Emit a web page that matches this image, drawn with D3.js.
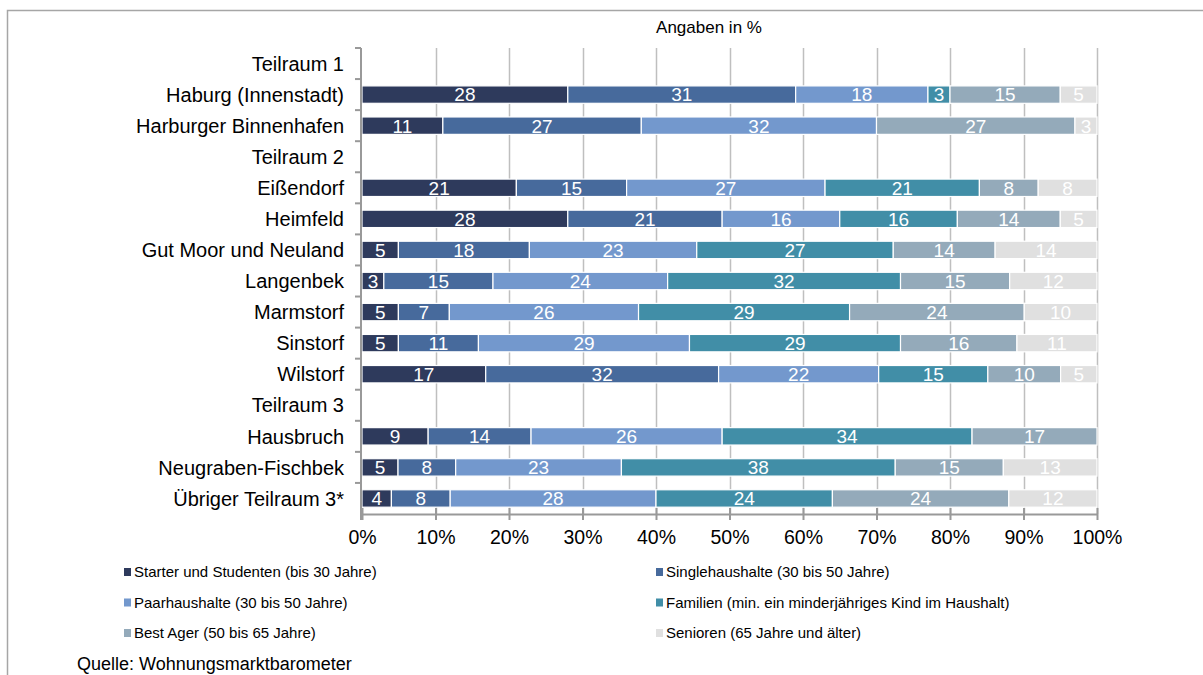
<!DOCTYPE html>
<html>
<head>
<meta charset="utf-8">
<script src="https://cdn.jsdelivr.net/npm/d3@7"></script>
<style>
  body { margin: 0; background: #fff; }
  svg { display: block; font-family: "Liberation Sans", Arial, sans-serif; }
</style>
</head>
<body>
<div id="chart"></div>
<script>
// categories (rows, top to bottom)
var areas = [
  "Teilraum 1", "Haburg (Innenstadt)", "Harburger Binnenhafen",
  "Teilraum 2", "Eißendorf", "Heimfeld", "Gut Moor und Neuland", "Langenbek",
  "Marmstorf", "Sinstorf", "Wilstorf",
  "Teilraum 3", "Hausbruch", "Neugraben-Fischbek", "Übriger Teilraum 3*"
];

var groups = [
  "Starter und Studenten (bis 30 Jahre)",
  "Singlehaushalte (30 bis 50 Jahre)",
  "Paarhaushalte (30 bis 50 Jahre)",
  "Familien (min. ein minderjähriges Kind im Haushalt)",
  "Best Ager (50 bis 65 Jahre)",
  "Senioren (65 Jahre und älter)"
];

// one array per group, same order as areas (0 = no bar)
var starter  = [0, 28, 11, 0, 21, 28,  5,  3,  5,  5, 17, 0,  9,  5,  4];
var single   = [0, 31, 27, 0, 15, 21, 18, 15,  7, 11, 32, 0, 14,  8,  8];
var paar     = [0, 18, 32, 0, 27, 16, 23, 24, 26, 29, 22, 0, 26, 23, 28];
var familien = [0,  3,  0, 0, 21, 16, 27, 32, 29, 29, 15, 0, 34, 38, 24];
var bestAger = [0, 15, 27, 0,  8, 14, 14, 15, 24, 16, 10, 0, 17, 15, 24];
var senioren = [0,  5,  3, 0,  8,  5, 14, 12, 10, 11,  5, 0,  0, 13, 12];

var xTicks = [0, 0.1, 0.2, 0.3, 0.4, 0.5, 0.6, 0.7, 0.8, 0.9, 1];
var colors = ["#2e3a5c", "#476a9c", "#7398cd", "#418ea7", "#94aaba", "#e0e0e0"];

var width = 1203, height = 675;
var margin = {top: 48, left: 362, right: 106, bottom: 161};

var svg = d3.select("#chart").append("svg")
  .attr("width", width)
  .attr("height", height);

// outer frame (top + left only visible)
svg.append("path")
  .attr("d", "M7.5," + height + "V10.5H" + width)
  .attr("fill", "none")
  .attr("stroke", "#a6a6a6")
  .attr("stroke-width", 1.5);

svg.append("text")
  .attr("x", 709)
  .attr("y", 33)
  .attr("text-anchor", "middle")
  .style("font-size", "17px")
  .text("Angaben in %");

var series = [starter, single, paar, familien, bestAger, senioren];
var rows = areas.map(function(a, i) {
  var r = {area: a};
  groups.forEach(function(g, k) { r[g] = series[k][i]; });
  return r;
});

var stack = d3.stack()
  .keys(groups)
  .offset(d3.stackOffsetExpand);
var stacked = stack(rows);

var x = d3.scaleLinear()
  .domain([0, 1])
  .range([margin.left, width - margin.right]);

var y = d3.scaleBand()
  .domain(areas)
  .range([margin.top, height - margin.bottom])
  .paddingInner(0.44)
  .paddingOuter(0.22);

// gridlines
svg.append("g")
  .selectAll("line")
  .data(xTicks.slice(1))
  .enter().append("line")
  .attr("x1", function(d) { return Math.round(x(d)) + 0.5; })
  .attr("x2", function(d) { return Math.round(x(d)) + 0.5; })
  .attr("y1", margin.top)
  .attr("y2", height - margin.bottom)
  .attr("stroke", "#bfbfbf")
  .attr("stroke-width", 1.5);

// bars
var layer = svg.append("g")
  .selectAll("g")
  .data(stacked)
  .enter().append("g")
  .attr("fill", function(d, i) { return colors[i]; });

layer.selectAll("rect")
  .data(function(d) { return d.filter(function(p) { return p[1] - p[0] > 0; }); })
  .enter().append("rect")
  .attr("x", function(d) { return x(d[0]); })
  .attr("width", function(d) { return x(d[1]) - x(d[0]); })
  .attr("y", function(d) { return y(d.data.area); })
  .attr("height", y.bandwidth())
  .attr("stroke", "#fff")
  .attr("stroke-width", 1.2);

// value labels
stacked.forEach(function(s) {
  svg.append("g")
    .selectAll("text")
    .data(s.filter(function(p) { return p[1] - p[0] > 0; }))
    .enter().append("text")
    .attr("x", function(d) { return (x(d[0]) + x(d[1])) / 2; })
    .attr("y", function(d) { return y(d.data.area) + y.bandwidth() / 2; })
    .attr("dy", "0.36em")
    .attr("text-anchor", "middle")
    .attr("fill", "#fff")
    .style("font-size", "19px")
    .text(function(d) { return d.data[s.key]; });
});

// x axis
var xAxis = svg.append("g")
  .attr("transform", "translate(0," + (height - margin.bottom) + ")")
  .call(d3.axisBottom(x)
    .tickValues(xTicks)
    .tickFormat(d3.format(".0%"))
    .tickSizeInner(6)
    .tickSizeOuter(0)
    .tickPadding(10));
xAxis.select(".domain").attr("stroke", "#999").attr("stroke-width", 2);
xAxis.selectAll(".tick line")
  .attr("y1", -6)
  .attr("stroke", "#999")
  .attr("stroke-width", 2);
xAxis.selectAll("text")
  .attr("fill", "#000")
  .style("font-size", "19.5px")
  .style("font-family", "Liberation Sans, Arial, sans-serif");

// y axis: labels + boundary ticks
var yAxis = svg.append("g")
  .attr("transform", "translate(" + (margin.left - 1) + ",0)");
yAxis.append("line")
  .attr("x1", 0).attr("x2", 0)
  .attr("y1", margin.top).attr("y2", height - margin.bottom + 6)
  .attr("stroke", "#999")
  .attr("stroke-width", 2);
var step = y.step();
yAxis.selectAll(".ytick")
  .data(areas)
  .enter().append("line")
  .attr("class", "ytick")
  .attr("x1", -6).attr("x2", 0)
  .attr("y1", function(d) { return y(d) + y.bandwidth() / 2 - step / 2; })
  .attr("y2", function(d) { return y(d) + y.bandwidth() / 2 - step / 2; })
  .attr("stroke", "#999")
  .attr("stroke-width", 2);
yAxis.selectAll(".ylabel")
  .data(areas)
  .enter().append("text")
  .attr("class", "ylabel")
  .attr("x", -17)
  .attr("y", function(d) { return y(d) + y.bandwidth() / 2; })
  .attr("dy", "0.36em")
  .attr("text-anchor", "end")
  .style("font-size", "20px")
  .text(function(d) { return d; });

// legend, two columns
var legend = svg.append("g")
  .selectAll("g")
  .data(groups)
  .enter().append("g")
  .attr("transform", function(d, i) {
    return "translate(" + (i % 2 ? 656 : 124) + "," + (572 + Math.floor(i / 2) * 30.5) + ")";
  });
legend.append("rect")
  .attr("x", 0).attr("y", -4)
  .attr("width", 7).attr("height", 8)
  .attr("fill", function(d, i) { return colors[i]; });
legend.append("text")
  .attr("x", 10)
  .attr("dy", "0.36em")
  .style("font-size", "15px")
  .text(function(d) { return d; });

svg.append("text")
  .attr("x", 77)
  .attr("y", 670)
  .style("font-size", "18px")
  .text("Quelle: Wohnungsmarktbarometer");
</script>
</body>
</html>
